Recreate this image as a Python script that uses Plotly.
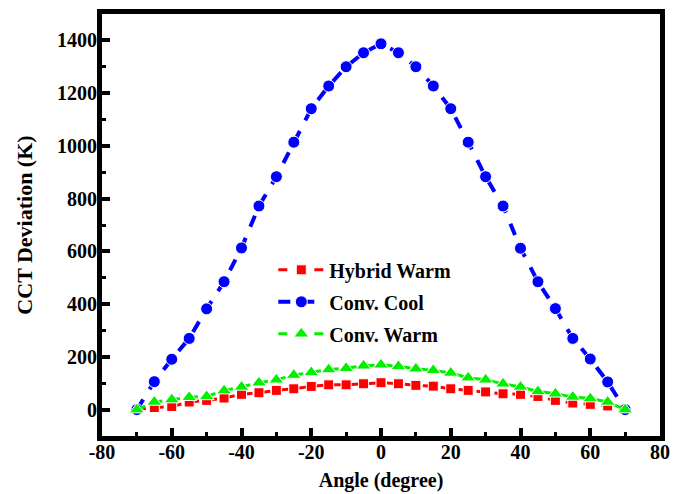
import plotly.graph_objects as go

angles = [-70, -65, -60, -55, -50, -45, -40, -35, -30, -25, -20, -15, -10, -5, 0,
          5, 10, 15, 20, 25, 30, 35, 40, 45, 50, 55, 60, 65, 70]

hybrid_warm = [0, 8, 12, 29, 35, 44, 58, 64, 73, 79, 88, 94, 94, 98, 102,
               98, 92, 89, 79, 73, 67, 60, 58, 50, 35, 25, 20, 14, 0]

conv_cool = [0, 106, 191, 270, 382, 485, 613, 772, 883, 1014, 1141, 1227, 1300, 1353, 1387,
             1353, 1300, 1227, 1141, 1014, 883, 772, 612, 485, 383, 270, 192, 105, 0]

conv_warm = [0, 29, 38, 47, 50, 72, 86, 102, 113, 131, 141, 152, 157, 166, 170,
             164, 155, 149, 139, 121, 113, 98, 86, 69, 60, 48, 42, 29, 0]

x_ticks = [-80, -60, -40, -20, 0, 20, 40, 60, 80]
x_tick_labels = ["-80", "-60", "-40", "-20", "0", "20", "40", "60", "80"]
y_ticks = [0, 200, 400, 600, 800, 1000, 1200, 1400]
y_tick_labels = ["0", "200", "400", "600", "800", "1000", "1200", "1400"]

FONT = "Liberation Serif"

fig = go.Figure()
fig.add_trace(go.Scatter(
    x=angles, y=hybrid_warm, name="Hybrid Warm", mode="lines+markers",
    legendgroup="a",
    line=dict(color="#FF0000", width=3, dash="dash"),
    marker=dict(symbol="square", size=10, color="#FF0000", line=dict(color="white", width=1)),
))
fig.add_trace(go.Scatter(
    x=angles, y=conv_cool, name="Conv. Cool", mode="lines+markers",
    legendgroup="b",
    line=dict(color="#0000FF", width=4, dash="dash"),
    marker=dict(symbol="circle", size=12, color="#0000FF", line=dict(color="white", width=1)),
))
fig.add_trace(go.Scatter(
    x=angles, y=conv_warm, name="Conv. Warm", mode="lines+markers",
    legendgroup="c",
    line=dict(color="#00F000", width=3, dash="dash"),
    marker=dict(symbol="triangle-up", size=13, color="#00F000", line=dict(color="white", width=1)),
))

axis_common = dict(
    showline=True, linecolor="black", linewidth=5, mirror=True,
    ticks="inside", ticklen=8, tickwidth=4, tickcolor="black",
    showgrid=False, zeroline=False, automargin=False,
    tickfont=dict(family=FONT, size=20, color="black", weight="bold"),
)

fig.update_xaxes(
    range=[-80, 80], tickmode="array", tickvals=x_ticks, ticktext=x_tick_labels,
    minor=dict(ticks="inside", ticklen=4, tickwidth=3, tickcolor="black", dtick=10, tick0=-80),
    ticklabelstandoff=-6,
    title=dict(text="Angle (degree)", font=dict(family=FONT, size=20, color="black", weight="bold"), standoff=12),
    **axis_common,
)
fig.update_yaxes(
    range=[-100, 1500], tickmode="array", tickvals=y_ticks, ticktext=y_tick_labels,
    minor=dict(ticks="inside", ticklen=4, tickwidth=3, tickcolor="black", dtick=100, tick0=0),
    ticklabelstandoff=-4,
    title=dict(text="CCT Deviation (K)", font=dict(family=FONT, size=22, color="black", weight="bold"), standoff=20),
    **axis_common,
)

# page body has an 8px default margin, so the figure is sized to fill the rest
fig.update_layout(
    width=674, height=486,
    margin=dict(l=94, r=22, t=6, b=58),
    plot_bgcolor="white", paper_bgcolor="white",
    legend=dict(
        x=0.307, y=0.44, xanchor="left", yanchor="top",
        bgcolor="rgba(0,0,0,0)",
        font=dict(family=FONT, size=20, color="black", weight="bold"),
        traceorder="grouped", tracegroupgap=3, itemwidth=46,
    ),
)

fig.write_html("out.html")
